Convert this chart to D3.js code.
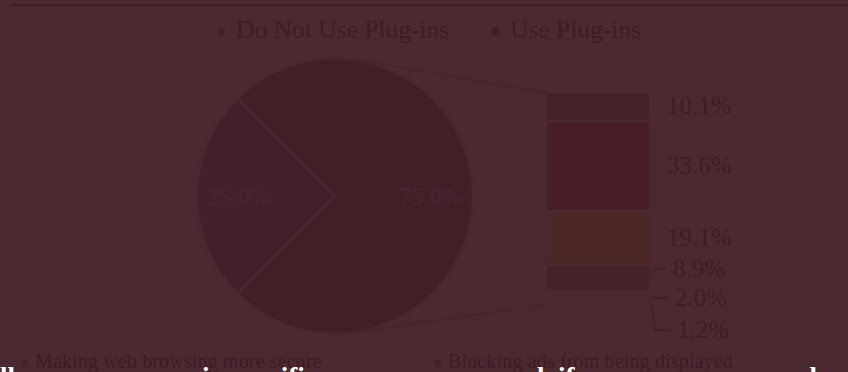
<!DOCTYPE html>
<html>
<head>
<meta charset="utf-8">
<script src="https://cdn.jsdelivr.net/npm/d3@7"></script>
<style>
  html, body { margin: 0; padding: 0; background: #4b2931; overflow: hidden; }
  svg { display: block; }
</style>
</head>
<body>
<svg id="chart" width="848" height="372"></svg>
<script>
// Share of respondents who use browser plug-ins
const pieCategories = ["Do Not Use Plug-ins", "Use Plug-ins"];
const pieValues = [25.0, 75.0];
const pieColors = ["#42202a", "#411f27"];
const pieLegendColors = ["#42212a", "#3e1d25"];

// Reasons given by plug-in users (split of the 75% slice)
const reasonCategories = [
  "Making web browsing more secure",
  "Blocking ads from being displayed",
  "Adding features to the browser",
  "Speeding up page loading",
  "Managing passwords",
  "Other reasons"
];
const reasonValues = [10.1, 33.6, 19.1, 8.9, 2.0, 1.2];
const reasonColors = ["#432128", "#481d26", "#4b2726", "#432229", "#4a2830", "#4a2930"];

// Caption line laid over the lower edge of the slide
const captionParts = [
  { text: "Overall, users are more", x: -72 },
  { text: "in specific ways, as", x: 202 },
  { text: "usual, if one or more users", x: 483 },
  { text: "also agree.", x: 796 }
];

const BG = "#4b2931";
const INK = "#3d1c24";
const SERIF = "'Liberation Serif', 'Times New Roman', serif";
const fmt = v => d3.format(".1f")(v) + "%";

const svg = d3.select("#chart");

// thin rule along the top
svg.append("line")
  .attr("x1", 10).attr("x2", 848).attr("y1", 5).attr("y2", 5)
  .attr("stroke", "#3f1e26").attr("stroke-width", 2);

// ---- top legend ----
const topLegendX = [218, 492];
const topLegend = svg.append("g");
pieCategories.forEach((name, i) => {
  const g = topLegend.append("g").attr("transform", `translate(${topLegendX[i]},0)`);
  g.append("rect").attr("x", 0).attr("y", 27).attr("width", 7).attr("height", 8)
    .attr("fill", pieLegendColors[i]);
  g.append("text").attr("x", 18).attr("y", 38)
    .attr("font-family", SERIF).attr("font-size", 25.5)
    .attr("fill", INK)
    .text(name);
});

// ---- pie ----
const cx = 335, cy = 196, r = 138;
const start = 5 * Math.PI / 4;
const pie = d3.pie().sort(null).startAngle(start).endAngle(start + 2 * Math.PI);
const arcs = pie(pieValues);
const arc = d3.arc().innerRadius(0).outerRadius(r);
const labelArc = d3.arc().innerRadius(96).outerRadius(96);

const pieG = svg.append("g").attr("transform", `translate(${cx},${cy})`);
pieG.selectAll("path").data(arcs).join("path")
  .attr("d", arc)
  .attr("fill", (d, i) => pieColors[i])
  .attr("stroke", "#4a2830").attr("stroke-width", 2.5).attr("stroke-linejoin", "miter");

pieG.selectAll("text").data(arcs).join("text")
  .attr("transform", d => `translate(${labelArc.centroid(d)})`)
  .attr("y", 9)
  .attr("text-anchor", "middle")
  .attr("font-family", SERIF).attr("font-size", 25).attr("fill", "#472630")
  .text(d => fmt(d.data));

// ---- stacked bar for the split slice ----
const barX = 547, barW = 102, barTop = 93, gap = 3.3;
const hScale = d3.scaleLinear().domain([0, 1]).range([0, 2.6]);
const sums = [0, ...d3.cumsum(reasonValues)];
const segs = reasonValues.map((v, i) => {
  const y = barTop + hScale(sums[i]) + i * gap;
  const h = hScale(v);
  return { v, i, y, h, mid: y + h / 2 };
});
const barBottom = segs[segs.length - 1].y + segs[segs.length - 1].h;

svg.append("g").selectAll("rect").data(segs).join("rect")
  .attr("x", barX).attr("width", barW)
  .attr("y", d => d.y).attr("height", d => d.h)
  .attr("fill", d => reasonColors[d.i]);

// connector lines: tangents from the bar corners to the pie
function tangent(px, py, side) {
  const dx = px - cx, dy = py - cy;
  const d = Math.hypot(dx, dy);
  const phi = Math.atan2(dy, dx);
  const a = Math.acos(r / d);
  const t = phi + side * a;
  return [cx + r * Math.cos(t), cy + r * Math.sin(t)];
}
const connectors = [
  [tangent(barX, barTop, -1), [barX, barTop]],
  [tangent(barX, barBottom, 1), [barX, barBottom]]
];
svg.append("g").selectAll("path").data(connectors).join("path")
  .attr("d", d => d3.line()(d))
  .attr("fill", "none").attr("stroke", "#43232a").attr("stroke-width", 1.2);

// value labels; the small segments get leader lines
const labelPlace = [
  { dx: 18, y: null },
  { dx: 18, y: null },
  { dx: 18, y: null },
  { dx: 24, y: 269, leader: true },
  { dx: 26, y: 298, leader: true },
  { dx: 28, y: 330, leader: true }
];
const barRight = barX + barW;
const labelsG = svg.append("g");
segs.forEach((s, i) => {
  const p = labelPlace[i];
  const midY = p.y === null ? s.mid : p.y;
  const lx = barRight + p.dx;
  labelsG.append("text")
    .attr("x", lx).attr("y", midY + 8)
    .attr("font-family", SERIF).attr("font-size", 25).attr("fill", INK)
    .text(fmt(s.v));
  if (p.leader) {
    const pts = [[lx - 7, midY], [barRight + 6, midY], [barRight + 2, s.mid]];
    labelsG.append("path").attr("d", d3.line()(pts))
      .attr("fill", "none").attr("stroke", "#3f1f26").attr("stroke-width", 1.3);
  }
});

// ---- bottom legend (two columns) ----
const bottomLegend = svg.append("g");
reasonCategories.forEach((name, i) => {
  const col = i % 2, row = Math.floor(i / 2);
  const x = col === 0 ? 22 : 435;
  const y = 368 + row * 30;
  const g = bottomLegend.append("g").attr("transform", `translate(${x},${y})`);
  g.append("rect").attr("x", 0).attr("y", -8).attr("width", 6).attr("height", 7)
    .attr("fill", reasonColors[i]);
  g.append("text").attr("x", 13).attr("y", 0)
    .attr("font-family", SERIF).attr("font-size", 20).attr("letter-spacing", 0.15)
    .attr("fill", INK)
    .text(name);
});

// ---- caption ----
const caption = svg.append("text")
  .attr("y", 386)
  .attr("font-family", SERIF).attr("font-size", 27).attr("font-weight", "bold")
  .attr("fill", "#ffffff");
captionParts.forEach(p => {
  caption.append("tspan").attr("x", p.x).text(p.text + " ");
});
</script>
</body>
</html>
